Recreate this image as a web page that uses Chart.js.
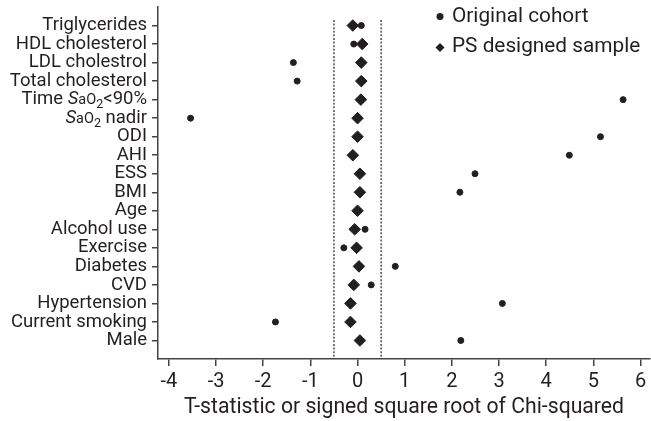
<!DOCTYPE html>
<html lang="en">
<head>
<meta charset="UTF-8">
<title>Covariate balance</title>
<script src="https://cdn.jsdelivr.net/npm/chart.js"></script>
<style>
  html, body { margin: 0; padding: 0; background: #fff; }
  #wrap { width: 651px; height: 421px; }
</style>
</head>
<body>
<div id="wrap"><canvas id="balanceChart"></canvas></div>
<script>
// covariates, top to bottom
var covariates = ['Triglycerides', 'HDL cholesterol', 'LDL cholestrol', 'Total cholesterol',
  'Time SaO2<90%', 'SaO2 nadir', 'ODI', 'AHI', 'ESS', 'BMI', 'Age', 'Alcohol use',
  'Exercise', 'Diabetes', 'CVD', 'Hypertension', 'Current smoking', 'Male'];

// statistic in the original cohort (circles)
var originalCohort = [0.08, -0.08, -1.36, -1.28, 5.63, -3.54, 5.15, 4.49, 2.49, 2.17,
  0.02, 0.16, -0.29, 0.80, 0.29, 3.07, -1.74, 2.19];

// statistic in the PS designed sample (diamonds)
var psSample = [-0.10, 0.10, 0.08, 0.08, 0.07, 0.00, 0.00, -0.10, 0.05, 0.05,
  0.00, -0.06, -0.02, 0.03, -0.08, -0.15, -0.15, 0.05];

var xTicks = [-4, -3, -2, -1, 0, 1, 2, 3, 4, 5, 6];
var balanceLimits = [-0.5, 0.5];

// labels that need italic / subscript parts
var richLabels = {
  4: [['Time ', 'n'], ['S', 'i'], ['aO', 's'], ['2', 'sub'], ['<90%', 'n']],
  5: [['S', 'i'], ['aO', 's'], ['2', 'sub'], [' nadir', 'n']]
};

var ink = '#231f20';
var family = 'Roboto';
var fonts = {
  n: '18.5px ' + family,
  i: 'italic 18.5px ' + family,
  s: '14.5px ' + family,
  sub: '12.5px ' + family
};

function toPoints(values) {
  return values.map(function (v, i) { return { x: v, y: i }; });
}

// draws the two mixed-style tick labels
var richLabelPlugin = {
  id: 'richLabels',
  afterDraw: function (chart) {
    var ctx = chart.ctx;
    var yScale = chart.scales.y;
    var right = yScale.right - 6 - 5;
    ctx.save();
    ctx.fillStyle = ink;
    ctx.textAlign = 'left';
    ctx.textBaseline = 'middle';
    ctx.font = fonts.n;
    var drop = ctx.measureText('H').actualBoundingBoxDescent;
    ctx.textBaseline = 'alphabetic';
    Object.keys(richLabels).forEach(function (k) {
      var parts = richLabels[k];
      var total = 0;
      parts.forEach(function (p) {
        ctx.font = fonts[p[1]];
        total += ctx.measureText(p[0]).width;
      });
      var x = right - total;
      var base = yScale.getPixelForValue(Number(k)) + drop;
      parts.forEach(function (p) {
        ctx.font = fonts[p[1]];
        ctx.fillText(p[0], x, p[1] === 'sub' ? base + 4 : base);
        x += ctx.measureText(p[0]).width;
      });
    });
    ctx.restore();
  }
};

// legend in the top right corner
var legendPlugin = {
  id: 'cornerLegend',
  afterDraw: function (chart) {
    var ctx = chart.ctx;
    ctx.save();
    ctx.fillStyle = ink;
    ctx.beginPath();
    ctx.arc(440, 16.5, 3.5, 0, Math.PI * 2);
    ctx.fill();
    ctx.beginPath();
    ctx.moveTo(440, 43);
    ctx.lineTo(444.5, 47.5);
    ctx.lineTo(440, 52);
    ctx.lineTo(435.5, 47.5);
    ctx.closePath();
    ctx.fill();
    ctx.font = '20.8px ' + family;
    ctx.textBaseline = 'middle';
    ctx.fillText('Original cohort', 452, 16.5);
    ctx.fillText('PS designed sample', 452, 46.5);
    ctx.restore();
  }
};

var limitSets = balanceLimits.map(function (v) {
  return {
    data: [{ x: v, y: -0.3 }, { x: v, y: 18 }],
    showLine: true,
    borderColor: ink,
    borderWidth: 1.2,
    borderDash: [2, 1.6],
    pointRadius: 0,
    fill: false
  };
});

var ctx = document.getElementById('balanceChart').getContext('2d');
new Chart(ctx, {
  type: 'scatter',
  data: {
    datasets: limitSets.concat([
      {
        label: 'Original cohort',
        data: toPoints(originalCohort),
        pointStyle: 'circle',
        pointRadius: 3,
        borderWidth: 1,
        backgroundColor: ink,
        borderColor: ink
      },
      {
        label: 'PS designed sample',
        data: toPoints(psSample),
        pointStyle: 'rectRot',
        pointRadius: 5.8,
        borderWidth: 1,
        backgroundColor: ink,
        borderColor: ink
      }
    ])
  },
  options: {
    responsive: true,
    maintainAspectRatio: false,
    animation: false,
    layout: { autoPadding: false, padding: { top: 7, right: 1, left: 0, bottom: 0 } },
    plugins: {
      legend: { display: false },
      tooltip: { enabled: false }
    },
    scales: {
      x: {
        type: 'linear',
        min: -4.23,
        max: 6.2,
        afterBuildTicks: function (scale) {
          scale.ticks = xTicks.map(function (v) { return { value: v }; });
        },
        afterFit: function (scale) {
          scale.height = 62;
          scale.paddingLeft = 0;
          scale.paddingRight = 0;
        },
        grid: { drawOnChartArea: false, drawTicks: true, tickLength: 7, color: '#444', lineWidth: 1.5 },
        border: { display: true, color: '#444', width: 1.5 },
        ticks: {
          color: ink,
          padding: 4,
          maxRotation: 0,
          autoSkip: false,
          font: { family: family, size: 20 }
        },
        title: {
          display: true,
          text: 'T-statistic or signed square root of Chi-squared',
          color: ink,
          font: { family: family, size: 21.2 },
          padding: { top: 2, bottom: 1 }
        }
      },
      y: {
        type: 'linear',
        min: -1,
        max: 18,
        reverse: true,
        afterBuildTicks: function (scale) {
          scale.ticks = covariates.map(function (c, i) { return { value: i }; });
        },
        afterFit: function (scale) {
          scale.width = 158;
          scale.paddingTop = 0;
          scale.paddingBottom = 0;
        },
        grid: { drawOnChartArea: false, drawTicks: true, tickLength: 6, color: '#444', lineWidth: 1.5 },
        border: { display: true, color: '#444', width: 1.5 },
        ticks: {
          padding: 5,
          autoSkip: false,
          font: { family: family, size: 18.5 },
          color: function (c) {
            return richLabels[c.index] ? 'rgba(0,0,0,0)' : ink;
          },
          callback: function (value) { return covariates[value]; }
        }
      }
    }
  },
  plugins: [richLabelPlugin, legendPlugin]
});
</script>
</body>
</html>
